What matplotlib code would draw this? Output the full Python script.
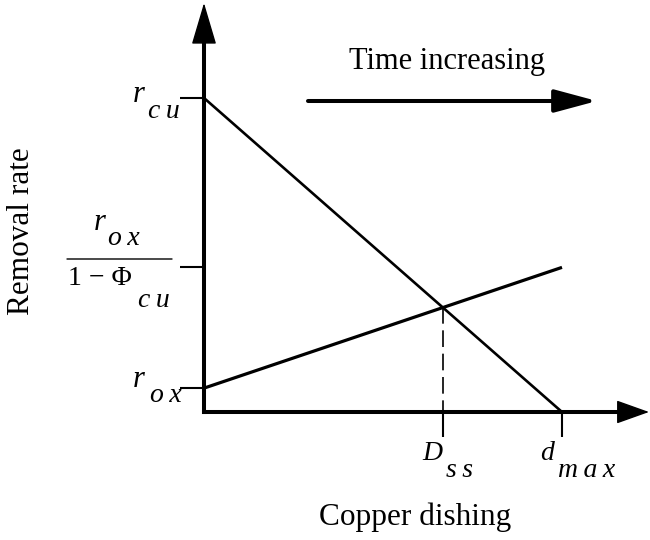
import matplotlib
matplotlib.use("Agg")
import matplotlib.pyplot as plt

plt.rcParams['font.family'] = ['Liberation Serif', 'DejaVu Serif']

# removal-rate model, normalised so that r_cu = 1 and d_max = 1
r_cu = 1.0
r_ox = 0.076
phi_cu = 0.835
d_max = 1.0
d_ss = 0.667

r_ox_lim = r_ox / (1 - phi_cu)
dish = [0.0, d_max]
rate_cu = [r_cu, 0.0]
rate_ox = [r_ox, r_ox_lim]
rate_ss = r_cu * (1 - d_ss / d_max)

fig = plt.figure(figsize=(6.5, 5.4), dpi=100)
ax = fig.add_axes([204 / 650, 128 / 540, 416 / 650, 370 / 540])
ax.set_xlim(0, 416 / 358)
ax.set_ylim(0, 370 / 314)

for side in ('top', 'right'):
    ax.spines[side].set_visible(False)
for side in ('left', 'bottom'):
    ax.spines[side].set_linewidth(2.9)
    ax.spines[side].set_capstyle('projecting')

ax.set_yticks([r_ox, r_ox_lim, r_cu])
ax.set_yticklabels([])
ax.set_xticks([d_ss, d_max])
ax.set_xticklabels([])
ax.tick_params(axis='y', direction='out', length=17, width=1.5)
ax.tick_params(axis='x', direction='out', length=18, width=1.5)

# arrow heads on both axes
head = dict(arrowstyle='-|>,head_length=27,head_width=8', mutation_scale=1,
            color='black', lw=1, shrinkA=0, shrinkB=0)
ax.annotate('', xy=(0, 1 + 39 / 370), xytext=(0, 1), xycoords='axes fraction',
            arrowprops=head)
ax.annotate('', xy=(1 + 29 / 416, 0), xytext=(1, 0), xycoords='axes fraction',
            arrowprops=dict(head, arrowstyle='-|>,head_length=21,head_width=7.5'))

ax.plot(dish, rate_cu, color='black', lw=1.9, solid_capstyle='butt', clip_on=False)
ax.plot(dish, rate_ox, color='black', lw=2.3, solid_capstyle='butt', clip_on=False)
ax.plot([d_ss, d_ss], [rate_ss, 0], color='black', lw=1.2, dashes=(10, 4))

def label(s, xy, off, ha='left', size=20):
    # subscripts are set with a little extra letter spacing
    s = '\u2009'.join(s)
    ax.annotate(s, xy=xy, xytext=off, textcoords='offset pixels', ha=ha,
                va='baseline', style='italic', fontsize=size, annotation_clip=False)

label('r', (0, r_cu), (-59, -4), ha='right', size=22)
label('cu', (0, r_cu), (-56, -20))
label('r', (0, r_ox), (-59, 1), ha='right', size=22)
label('ox', (0, r_ox), (-54, -14))

label('r', (0, r_ox_lim), (-98, 37), ha='right', size=22)
label('ox', (0, r_ox_lim), (-96, 22))
ax.annotate('1 \u2212 \u03a6', xy=(0, r_ox_lim), xytext=(-136, -18),
            textcoords='offset pixels', ha='left', va='baseline', fontsize=20,
            annotation_clip=False)
label('cu', (0, r_ox_lim), (-66, -40))
ax.annotate('', xy=(172, 281), xytext=(67, 281), xycoords='figure pixels',
            arrowprops=dict(arrowstyle='-', lw=1, color='black', shrinkA=0, shrinkB=0))

label('D', (d_ss, 0), (-20, -48))
label('ss', (d_ss, 0), (3, -65))
label('d', (d_max, 0), (-22, -48))
label('max', (d_max, 0), (-4, -65))

fig.text(415 / 650, 1 - 517 / 540, 'Copper dishing', ha='center', va='center', fontsize=22.5)
fig.text(22 / 650, 1 - 231 / 540, 'Removal rate', ha='center', va='center',
         rotation=90, fontsize=22.5)

# direction of time along the curve
fig.text(447 / 650, 1 - 62 / 540, 'Time increasing', ha='center', va='center', fontsize=22)
ax.annotate('', xy=(597, 439), xytext=(308, 439), xycoords='figure pixels',
            arrowprops=dict(arrowstyle='-|>,head_length=26,head_width=7',
                            mutation_scale=1, color='black', lw=2.9,
                            shrinkA=0, shrinkB=0))

fig.savefig('out.png', dpi=100)
